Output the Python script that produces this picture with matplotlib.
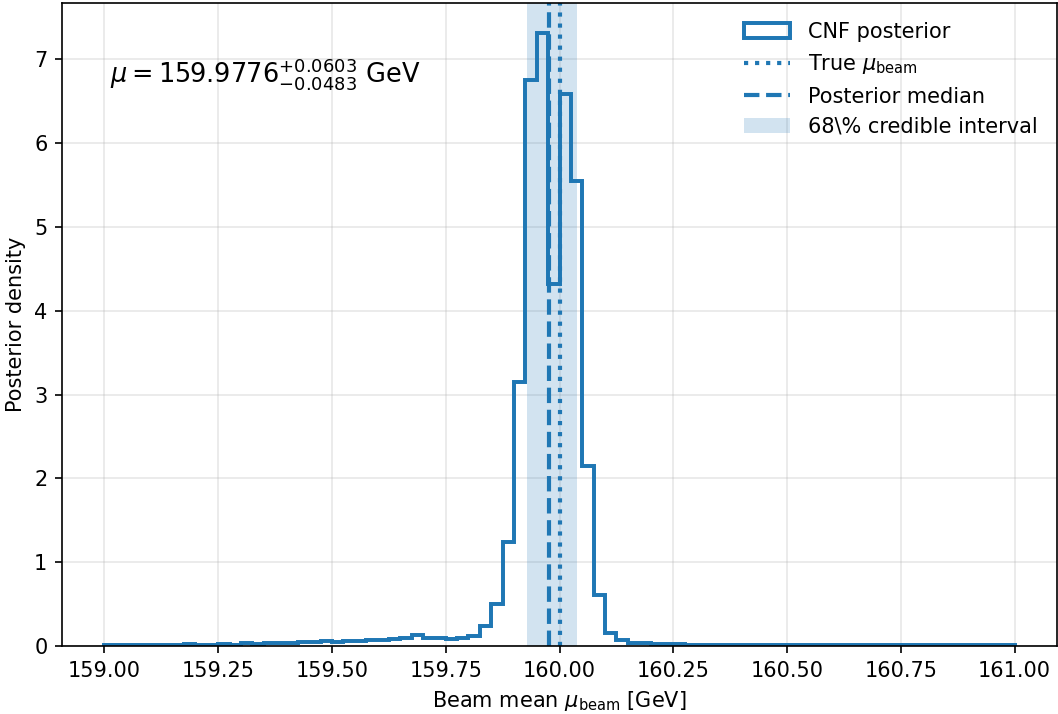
import numpy as np
import matplotlib
matplotlib.use("Agg")
import matplotlib.pyplot as plt

# Histogram of posterior samples for the beam mean (80 bins, 159-161 GeV)
bin_lo, bin_hi, n_bins = 159.0, 161.0, 80
density = [
    # 159.000 - 159.250
    0.010, 0.012, 0.008, 0.010, 0.012, 0.010, 0.008, 0.018, 0.012, 0.010,
    # 159.250 - 159.500
    0.020, 0.015, 0.030, 0.025, 0.035, 0.035, 0.030, 0.050, 0.045, 0.055,
    # 159.500 - 159.675
    0.050, 0.055, 0.065, 0.070, 0.075, 0.085, 0.090,
    # 159.675 - 159.900
    0.130, 0.100, 0.100, 0.085, 0.090, 0.120, 0.240, 0.500, 1.240,
    # 159.900 - 160.150
    3.15, 6.75, 7.31, 4.32, 6.58, 5.55, 2.15, 0.61, 0.16, 0.07,
    # 160.150 - 161.000
    0.030, 0.040, 0.025, 0.020, 0.020, 0.015, 0.015, 0.010, 0.012, 0.010,
    0.008, 0.010, 0.012, 0.008, 0.010, 0.006, 0.010, 0.008, 0.012, 0.010,
    0.006, 0.010, 0.008, 0.012, 0.010, 0.008, 0.006, 0.010, 0.012, 0.008,
    0.010, 0.012, 0.010, 0.008,
]

true_mu = 160.0
median_mu = 159.9776
err_plus = 0.0603
err_minus = 0.0483

xticks = [159.00, 159.25, 159.50, 159.75, 160.00, 160.25, 160.50, 160.75, 161.00]
yticks = [0, 1, 2, 3, 4, 5, 6, 7]

edges = np.linspace(bin_lo, bin_hi, n_bins + 1)
centers = 0.5 * (edges[:-1] + edges[1:])

W, H, DPI = 1058, 714, 150
fig = plt.figure(figsize=(W / DPI, H / DPI), dpi=DPI)
ax = fig.add_axes([62 / W, (H - 646) / H, (1057 - 62) / W, (646 - 3) / H])

blue = "#1f77b4"
ax.hist(centers, bins=edges, weights=density, histtype="step",
        linewidth=1.9, color=blue, label="CNF posterior")
ax.axvline(true_mu, color=blue, linestyle=":", linewidth=2.0,
           label=r"True $\mu_{\rm beam}$")
ax.axvline(median_mu, color=blue, linestyle="--", linewidth=2.0,
           label="Posterior median")
ax.axvspan(median_mu - err_minus, median_mu + err_plus, color=blue,
           alpha=0.2, linewidth=0, label=r"68\% credible interval")

ax.text(0.048, 0.89,
        r"$\mu = %.4f^{+%.4f}_{-%.4f}$ GeV" % (median_mu, err_plus, err_minus),
        transform=ax.transAxes, fontsize=12.3, va="center", ha="left")

ax.set_xlim(158.9066, 161.0934)
ax.set_ylim(0, 7.67)
ax.set_xticks(xticks)
ax.set_xticklabels(["%.2f" % t for t in xticks])
ax.set_yticks(yticks)
ax.grid(True, color="#b0b0b0", alpha=0.3, linewidth=0.8)
ax.set_axisbelow(True)

ax.set_xlabel(r"Beam mean $\mu_{\rm beam}$ [GeV]")
ax.set_ylabel("Posterior density")

ax.legend(loc="upper right", frameon=False, fontsize=10,
          handlelength=2.2, handletextpad=0.9)

fig.savefig("out.png", dpi=DPI)
